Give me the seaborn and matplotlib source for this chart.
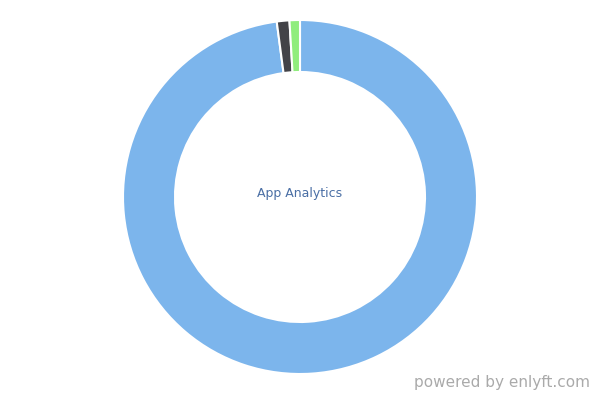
import matplotlib
matplotlib.use("Agg")
import matplotlib.pyplot as plt
import seaborn as sns

# share of the App Analytics category
products = ["Other", "Product B", "Product C"]
shares = [97.9, 1.15, 0.95]
colors = ["#7cb5ec", "#434348", "#90ed7d"]
center_label = "App Analytics"

sns.set_theme(style="white")
plt.rcParams['font.family'] = ['DejaVu Sans']

fig = plt.figure(figsize=(6, 4), dpi=100)
ax = fig.add_axes([0, 0, 1, 1])
ax.set_aspect("equal")
ax.axis("off")

ax.pie(shares, labels=None, colors=sns.color_palette(colors), startangle=90,
       counterclock=False, center=(300, 203), radius=177,
       wedgeprops=dict(width=52, edgecolor="white", linewidth=1.5))
ax.set_xlim(0, 600)
ax.set_ylim(0, 400)

ax.text(300, 206, center_label, ha="center", va="center", fontsize=9, color="#4a6fa5")
ax.text(590, 10, "powered by enlyft.com", ha="right", va="bottom", fontsize=11, color="#aaaaaa")

fig.savefig("out.png", dpi=100)
